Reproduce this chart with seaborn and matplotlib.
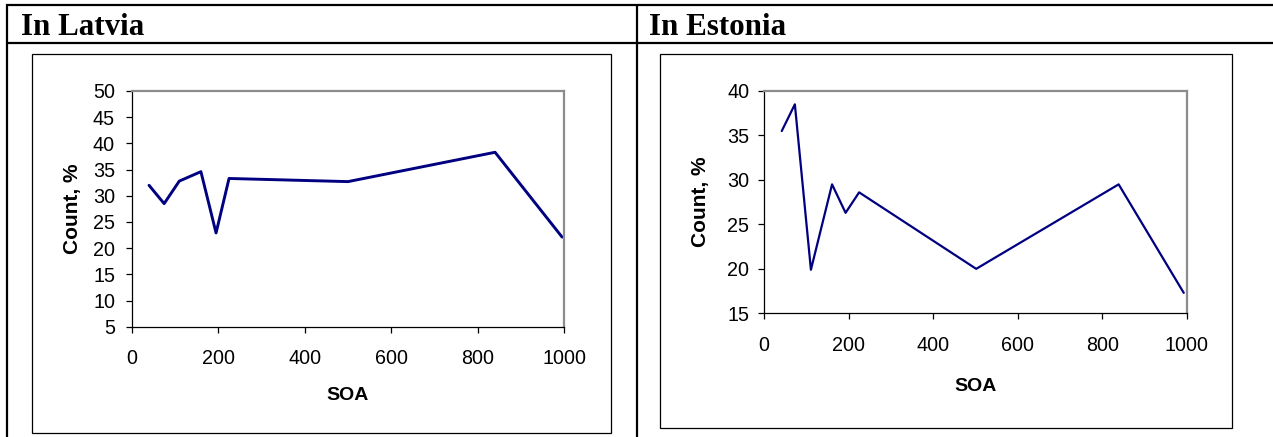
import matplotlib
matplotlib.use("Agg")
import matplotlib.pyplot as plt
from matplotlib.lines import Line2D
from matplotlib.patches import Rectangle
import pandas as pd
import seaborn as sns

# SOA values (ms) and counts (%) for the two samples
latvia_soa = [40, 75, 110, 160, 195, 225, 500, 840, 995]
latvia_count = [32.0, 28.5, 32.8, 34.6, 22.9, 33.3, 32.7, 38.3, 22.1]

estonia_soa = [42, 73, 111, 161, 193, 225, 502, 839, 993]
estonia_count = [35.5, 38.5, 19.9, 29.5, 26.3, 28.6, 20.0, 29.5, 17.3]

panel_titles = ["In Latvia", "In Estonia"]
x_ticks = [0, 200, 400, 600, 800, 1000]
latvia_y_ticks = [5, 10, 15, 20, 25, 30, 35, 40, 45, 50]
estonia_y_ticks = [15, 20, 25, 30, 35, 40]

sns.set_style("white")
plt.rcParams["font.family"] = ["Liberation Sans", "DejaVu Sans"]
plt.rcParams["text.color"] = "black"
plt.rcParams["axes.labelcolor"] = "black"
plt.rcParams["xtick.color"] = "black"
plt.rcParams["ytick.color"] = "black"

W, H = 1273, 437
fig = plt.figure(figsize=(W / 100, H / 100), dpi=100)
fig.patch.set_facecolor("white")


def fx(x):
    return x / W


def fy(y):
    return 1 - y / H


def hline(x0, x1, y, lw, color="black"):
    fig.add_artist(Line2D([fx(x0), fx(x1)], [fy(y), fy(y)], transform=fig.transFigure,
                          color=color, lw=lw, solid_capstyle="butt"))


def vline(x, y0, y1, lw, color="black"):
    fig.add_artist(Line2D([fx(x), fx(x)], [fy(y0), fy(y1)], transform=fig.transFigure,
                          color=color, lw=lw, solid_capstyle="butt"))


def box(x0, y0, x1, y1, lw=0.9):
    fig.add_artist(Rectangle((fx(x0), fy(y1)), fx(x1) - fx(x0), fy(y0) - fy(y1),
                             transform=fig.transFigure, fill=False,
                             edgecolor="black", lw=lw))


# table grid
hline(6, W, 5, 1.6)
hline(6, W, 42.5, 1.6)
vline(7, 4, H, 1.6)
vline(636.5, 4, H, 1.6)

# table headers
fig.text(fx(21), fy(35), panel_titles[0], family="Liberation Serif", weight="bold",
         fontsize=22.3, va="baseline", ha="left")
fig.text(fx(649), fy(35), panel_titles[1], family="Liberation Serif", weight="bold",
         fontsize=22.3, va="baseline", ha="left")

# chart frames
box(31.5, 53.5, 610.5, 432.5)
box(660, 53.5, 1231.5, 427.5)

line_color = "#000080"


def make_axes(left, top, right, bottom):
    return fig.add_axes([fx(left), fy(bottom), fx(right) - fx(left), fy(top) - fy(bottom)])


def style(ax, yticks, ylim, ypad, xlabelpad, ylabelpad):
    ax.set_xlim(0, 1000)
    ax.set_ylim(*ylim)
    ax.set_xticks(x_ticks)
    ax.set_yticks(yticks)
    ax.set_facecolor("white")
    for side in ("top", "right"):
        ax.spines[side].set_color("#8c8c8c")
        ax.spines[side].set_linewidth(1.6)
    for side in ("left", "bottom"):
        ax.spines[side].set_color("black")
        ax.spines[side].set_linewidth(0.9)
    ax.tick_params(axis="both", direction="out", length=4, width=0.9, color="black",
                   labelsize=14.2, labelcolor="black", left=True, bottom=True)
    ax.tick_params(axis="y", pad=ypad)
    ax.tick_params(axis="x", pad=12)
    ax.set_xlabel("SOA", fontsize=14, weight="bold", labelpad=xlabelpad, color="black")
    ax.set_ylabel("Count, %", fontsize=15, weight="bold", labelpad=ylabelpad, color="black")


ax1 = make_axes(131.7, 91, 564.3, 326.7)
df1 = pd.DataFrame({"SOA": latvia_soa, "Count": latvia_count})
sns.lineplot(data=df1, x="SOA", y="Count", ax=ax1, color=line_color, lw=2.1,
             estimator=None, sort=False)
style(ax1, latvia_y_ticks, (5, 50), 8, 14, 8)

ax2 = make_axes(764, 91, 1186.7, 313.3)
df2 = pd.DataFrame({"SOA": estonia_soa, "Count": estonia_count})
sns.lineplot(data=df2, x="SOA", y="Count", ax=ax2, color=line_color, lw=1.6,
             estimator=None, sort=False)
style(ax2, estonia_y_ticks, (15, 40), 6.6, 17, 12)

fig.savefig("out.png", dpi=100, facecolor="white")
